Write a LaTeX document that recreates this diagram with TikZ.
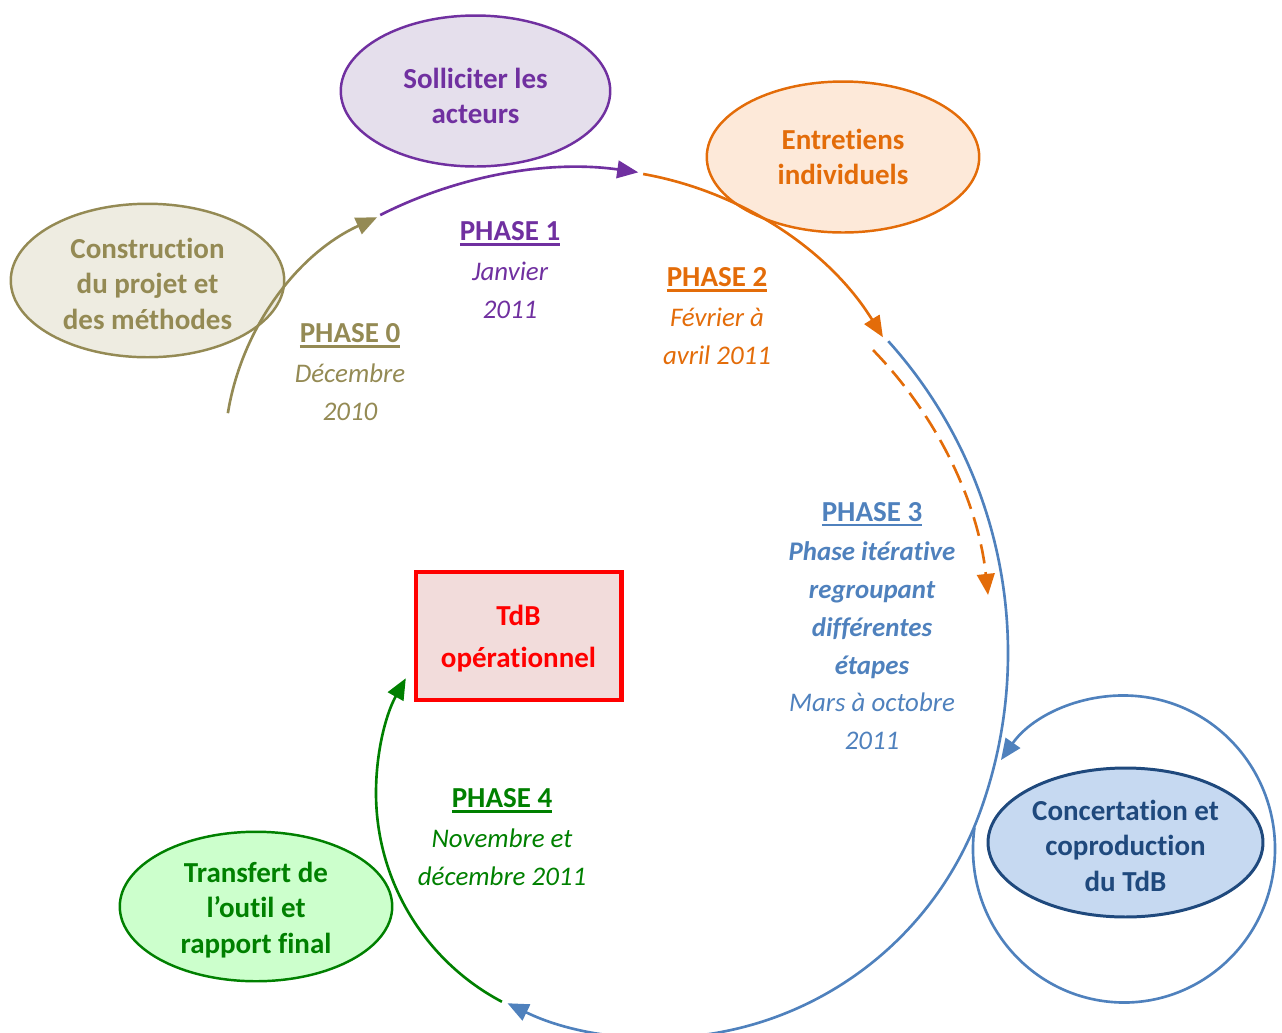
\documentclass[tikz,border=0pt]{standalone}
\usepackage{fontspec}
\setmainfont{Carlito}[Ligatures=NoCommon]
\usetikzlibrary{arrows.meta,shapes.geometric}

\definecolor{olive}{HTML}{948A54}
\definecolor{olivefill}{HTML}{EEECE1}
\definecolor{violet}{HTML}{7030A0}
\definecolor{violetfill}{HTML}{E5DFEC}
\definecolor{orangec}{HTML}{E36C09}
\definecolor{orangefill}{HTML}{FDE9D9}
\definecolor{bluec}{HTML}{4F81BD}
\definecolor{darkblue}{HTML}{1F497D}
\definecolor{bluefill}{HTML}{C6D9F1}
\definecolor{greenc}{HTML}{008000}
\definecolor{greenfill}{HTML}{CCFFCC}
\definecolor{redc}{HTML}{FF0000}
\definecolor{redfill}{HTML}{F2DCDB}

% underlined bold heading of a phase
\newsavebox\headbox
\newcommand\phasehead[1]{\sbox\headbox{\fontsize{16.5}{21.5}\selectfont\upshape\bfseries #1}%
  \rlap{\rule[-2.8pt]{\wd\headbox}{1.3pt}}\usebox\headbox}

\tikzset{
  bubble/.style={ellipse, line width=1.4pt, inner sep=0pt,
    minimum width=5.45cm, minimum height=3.02cm},
  bubbletext/.style={align=center, inner sep=0pt,
    font=\fontsize{16.5}{20.2}\selectfont\bfseries},
  phasetxt/.style={align=center, inner sep=0pt,
    font=\fontsize{15.3}{21.5}\selectfont\itshape},
  cycle/.style={line width=1.5pt, -{Triangle[length=12pt,width=10pt]}},
}

\begin{document}
\begin{tikzpicture}[x=0.02cm, y=-0.02cm]
\useasboundingbox (0,0) rectangle (1282,1032);

% activity bubbles
\node[bubble, draw=olive, fill=olivefill, minimum width=5.47cm, minimum height=3.07cm,
  label={[bubbletext, text=olive, yshift=-1.7pt]center:{Construction\\du projet et\\des méthodes}}]
  (cons) at (147.5,280.5) {};
\node[bubble, draw=violet, fill=violetfill, minimum width=5.39cm,
  label={[bubbletext, text=violet, yshift=-2.8pt]center:{Solliciter les\\acteurs}}]
  (soll) at (475.5,91) {};
\node[bubble, draw=orangec, fill=orangefill,
  label={[bubbletext, text=orangec]center:{Entretiens\\individuels}}]
  (entr) at (843,157) {};
\node[bubble, draw=darkblue, fill=bluefill, line width=1.7pt, minimum width=5.5cm, minimum height=2.98cm,
  label={[bubbletext, text=darkblue, yshift=-1.7pt]center:{Concertation et\\coproduction\\du TdB}}]
  (conc) at (1125.5,842.5) {};
\node[bubble, draw=greenc, fill=greenfill, minimum height=2.99cm,
  label={[bubbletext, text=greenc, yshift=-2pt]center:{Transfert de\\l’outil et\\rapport final}}]
  (tran) at (256,906.5) {};
\node[draw=redc, fill=redfill, line width=2.3pt, minimum width=4.12cm, minimum height=2.56cm,
  label={[bubbletext, text=redc, yshift=-1.5pt, font=\fontsize{16.5}{23.8}\selectfont\bfseries]center:{TdB\\opérationnel}}]
  (tdb) at (518.5,636) {};

% phase captions
\node[phasetxt, text=olive] (p0) at (350,372) {\phasehead{PHASE 0}\\[1pt]Décembre\\2010};
\node[phasetxt, text=violet] (p1) at (510,270) {\phasehead{PHASE 1}\\[1pt]Janvier\\2011};
\node[phasetxt, text=orangec] (p2) at (717,316) {\phasehead{PHASE 2}\\[1pt]Février à\\avril 2011};
\node[phasetxt, text=bluec] (p3) at (872,626) {\phasehead{PHASE 3}\\[1pt]{\bfseries Phase itérative}\\
  {\bfseries regroupant}\\{\bfseries différentes}\\{\bfseries étapes}\\Mars à octobre\\2011};
\node[phasetxt, text=greenc] (p4) at (502,837) {\phasehead{PHASE 4}\\[1pt]Novembre et\\décembre 2011};

% centres of the arcs of the cycle
\coordinate (c0) at (486,455);
\coordinate (c1) at (577,603);
\coordinate (c2) at (581,523);
\coordinate (c2d) at (576,639);
\coordinate (c3) at (542,653);
\coordinate (c4) at (612,793);
\coordinate (cloop) at (1124,849);

% phase 0
\draw[cycle, olive] (c0) ++(189.2:261.5) arc[start angle=189.2, end angle=245.4, radius=261.5];
% phase 1
\draw[cycle, violet] (c1) ++(243.1:435) arc[start angle=243.1, end angle=278.1, radius=435];
% phase 2
\draw[cycle, orangec] (c2) ++(-79.9:354.5) arc[start angle=-79.9, end angle=-31.6, radius=354.5];
\draw[cycle, orangec, dash pattern=on 11pt off 5pt] (c2d) ++(-44.2:414.4)
  arc[start angle=-44.2, end angle=-6.1, radius=414.4];
% phase 3: two tangent arcs, then the loop of concertation
\draw[cycle, bluec] (c3) ++(-42:466) arc[start angle=-42, end angle=20, radius=466]
  arc[start angle=20, end angle=116, radius=342.8];
\draw[cycle, bluec] (cloop) ++(188:151 and 153.5)
  arc[start angle=188, end angle=-144.6, x radius=151, y radius=153.5];
% phase 4
\draw[cycle, greenc] (c4) ++(117.8:236) arc[start angle=117.8, end angle=209.1, radius=236];
\end{tikzpicture}
\end{document}
